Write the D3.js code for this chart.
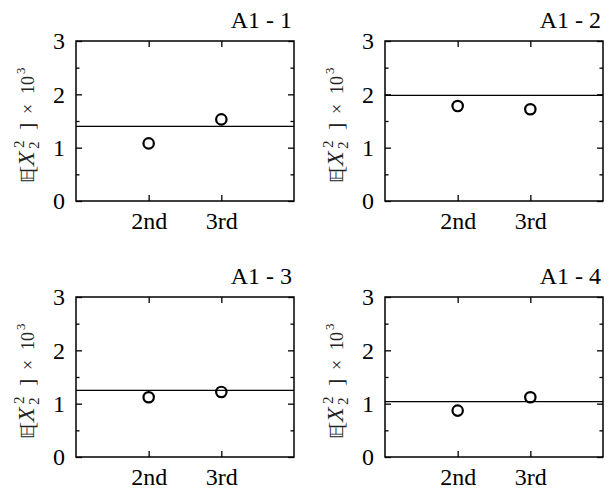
<!DOCTYPE html>
<html>
<head>
<meta charset="utf-8">
<script src="https://cdn.jsdelivr.net/npm/d3@7"></script>
<style>
  html, body { margin: 0; padding: 0; background: #fff; }
  svg { display: block; }
  svg text { font-family: "Liberation Serif", serif; }
</style>
</head>
<body>
<svg id="chart" width="613" height="491" font-family="Liberation Serif"></svg>
<script>
// ---- data ----
const panelTitles = ["A1 - 1", "A1 - 2", "A1 - 3", "A1 - 4"];
const categories = ["2nd", "3rd"];
const values2nd = [1.08, 1.78, 1.12, 0.87];
const values3rd = [1.53, 1.72, 1.22, 1.12];
const referenceLevel = [1.40, 1.98, 1.25, 1.04];
const yTicks = [0, 1, 2, 3];
const yMinorTicks = [0.5, 1.5, 2.5];
const yDomain = [0, 3];

// ---- layout ----
const SERIF = "Liberation Serif";
const svg = d3.select("#chart");
const W = 218, H = 160;
const origins = [[76, 41], [385, 41], [76, 297], [385, 297]];

panelTitles.forEach((title, i) => {
  const [ox, oy] = origins[i];
  const g = svg.append("g").attr("transform", `translate(${ox},${oy})`);

  const x = d3.scalePoint().domain(categories).range([0, W]).padding(1);
  const y = d3.scaleLinear().domain(yDomain).range([H, 0]);

  const axL = d3.axisLeft(y).tickValues(yTicks).tickSize(-6).tickPadding(11).tickFormat(d3.format("d"));
  const axLm = d3.axisLeft(y).tickValues(yMinorTicks).tickSize(-3.5).tickFormat("");
  const axR = d3.axisRight(y).tickValues(yTicks).tickSize(-6).tickFormat("");
  const axRm = d3.axisRight(y).tickValues(yMinorTicks).tickSize(-3.5).tickFormat("");
  const axB = d3.axisBottom(x).tickSize(-6).tickPadding(11);
  const axT = d3.axisTop(x).tickSize(-6).tickFormat("");

  g.append("g").call(axL);
  g.append("g").call(axLm);
  g.append("g").attr("transform", `translate(${W},0)`).call(axR);
  g.append("g").attr("transform", `translate(${W},0)`).call(axRm);
  g.append("g").attr("transform", `translate(0,${H})`).call(axB);
  g.append("g").call(axT);

  g.selectAll(".domain").remove();
  g.selectAll("g").attr("font-family", SERIF).attr("font-size", 24);
  g.selectAll(".tick line").attr("stroke", "#000").attr("stroke-width", 1.3);
  g.selectAll(".tick text").style("font-size", "24px").style("font-family", SERIF).attr("fill", "#000");

  g.append("rect").attr("x", 0).attr("y", 0).attr("width", W).attr("height", H)
    .attr("fill", "none").attr("stroke", "#000").attr("stroke-width", 1.5);

  g.append("line")
    .attr("x1", 0).attr("x2", W)
    .attr("y1", y(referenceLevel[i])).attr("y2", y(referenceLevel[i]))
    .attr("stroke", "#000").attr("stroke-width", 1.3);

  const pts = [
    { c: categories[0], v: values2nd[i] },
    { c: categories[1], v: values3rd[i] }
  ];
  g.selectAll("circle.pt").data(pts).join("circle")
    .attr("class", "pt")
    .attr("cx", d => x(d.c)).attr("cy", d => y(d.v))
    .attr("r", 5.2)
    .attr("fill", "none").attr("stroke", "#000").attr("stroke-width", 2.2);

  g.append("text")
    .attr("x", W - 2).attr("y", -13)
    .attr("text-anchor", "end")
    .style("font-family", SERIF).style("font-size", "24px")
    .text(title);

  // y label (rotated; x runs upward along the axis)
  const lab = g.append("text")
    .attr("transform", `translate(-42.5,${H / 2}) rotate(-90)`)
    .attr("text-anchor", "start")
    .style("font-family", SERIF).style("font-size", "18px").attr("fill", "#222");
  lab.append("tspan").attr("x", -62).attr("y", 0).text("𝔼");
  lab.append("tspan").attr("x", -52).attr("y", 0).style("font-size", "22px").text("[");
  lab.append("tspan").attr("x", -45).attr("y", 0).style("font-size", "24px").style("font-style", "italic").text("X");
  lab.append("tspan").attr("x", -27).attr("y", -10).style("font-size", "15px").text("2");
  lab.append("tspan").attr("x", -28).attr("y", 5).style("font-size", "15px").text("2");
  lab.append("tspan").attr("x", -9).attr("y", 0).style("font-size", "22px").text("]");
  lab.append("tspan").attr("x", 7).attr("y", 0).text("×");
  lab.append("tspan").attr("x", 27).attr("y", 0).text("10");
  lab.append("tspan").attr("x", 47).attr("y", -9).style("font-size", "13px").text("3");
});
</script>
</body>
</html>
